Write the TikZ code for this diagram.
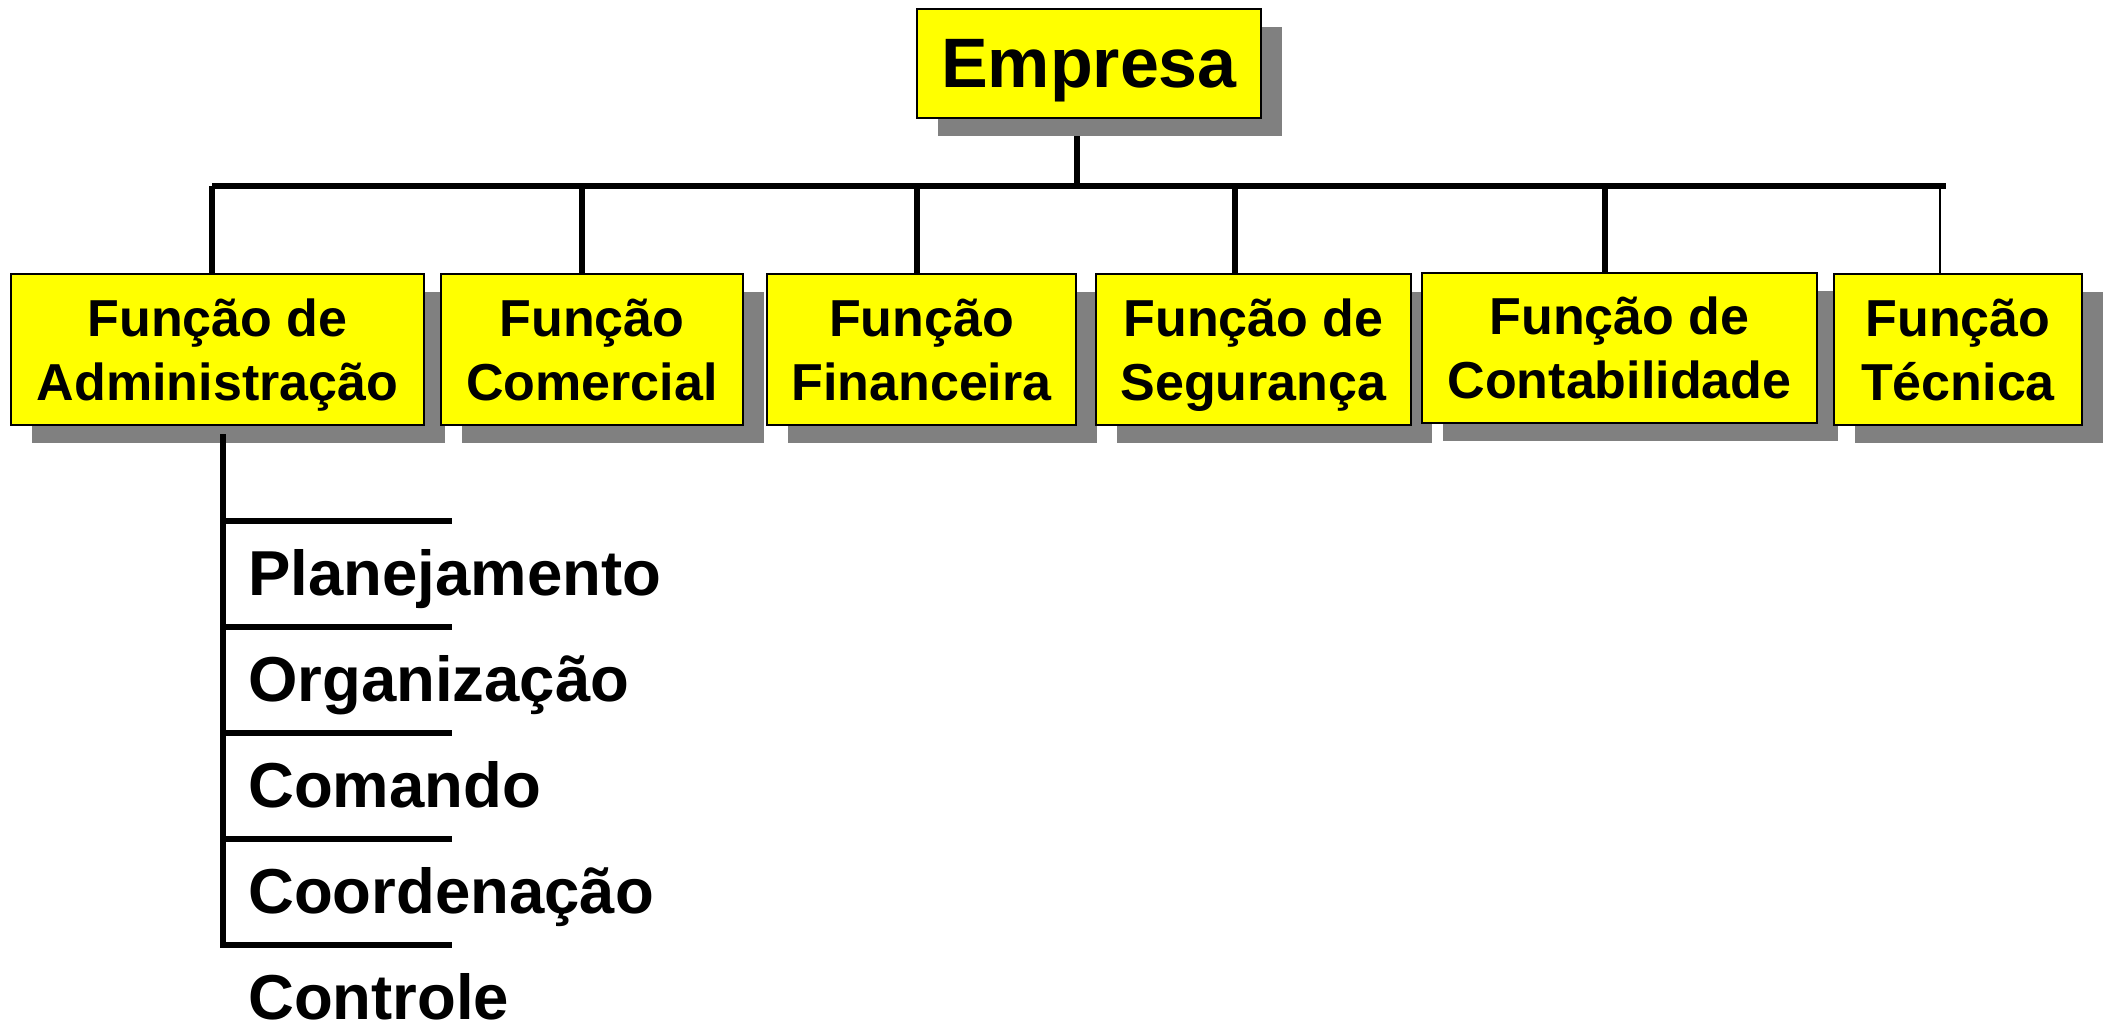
\documentclass[tikz,border=0pt]{standalone}
\usepackage{fontspec}
\setmainfont{Liberation Sans}
\usetikzlibrary{shadows,backgrounds}
\definecolor{boxyellow}{RGB}{255,255,0}
\definecolor{shadowgray}{RGB}{128,128,128}
\begin{document}
\begin{tikzpicture}[x=1pt, y=-1pt,
	func/.style={draw, line width=2pt, fill=boxyellow, align=center, inner sep=0pt,
		text depth=0pt, minimum height=151pt,
		font=\fontsize{52}{64}\selectfont\bfseries,
		drop shadow={shadow xshift=21pt, shadow yshift=-18pt, fill=shadowgray, opacity=1}},
	link/.style={line width=5.5pt},
	item/.style={anchor=base west, inner sep=0pt, font=\fontsize{63.5}{70}\selectfont\bfseries}]
	\useasboundingbox (0,0) rectangle (2105,1020);
	%top box
	\node[func, minimum width=344pt, minimum height=109pt,
		font=\fontsize{70}{80}\selectfont\bfseries] (empresa) at (1089,63.5) {Empresa};
	%functions
	\node[func, minimum width=413pt] (admin) at (217.5,349.5) {Função de\\Administração};
	\node[func, minimum width=302pt] (comercial) at (592,349.5) {Função\\Comercial};
	\node[func, minimum width=309pt] (financeira) at (921.5,349.5) {Função\\Financeira};
	\node[func, minimum width=315pt] (seguranca) at (1253.5,349.5) {Função de\\Segurança};
	\node[func, minimum width=395pt, minimum height=150pt] (contab) at (1619.5,348) {Função de\\Contabilidade};
	\node[func, minimum width=248pt] (tecnica) at (1958,349.5) {Função\\Técnica};
	%bar
	\begin{scope}[on background layer]
		\coordinate (top) at (1077,186);
		\coordinate (barL) at (212,186);
		\coordinate (barR) at (1946,186);
		\draw[line width=6pt] (barL) -- (barR);
		\draw[link] (top) -- (top |- empresa.south);
		\foreach \n/\x in {admin/212, comercial/582, financeira/917, seguranca/1235, contab/1605}
		{
			\coordinate (d\n) at (\x,186);
			\draw[link] (d\n) -- (d\n |- \n.north);
		}
		\coordinate (dtecnica) at (1940,186);
		\draw[line width=2pt] (dtecnica) -- (dtecnica |- tecnica.north);
	\end{scope}
	%list
	\foreach \name/\txt [count=\i] in {plan/Planejamento, org/Organização, com/Comando,
		coord/Coordenação, ctrl/Controle}
	{
		\node[item] (\name) at (248,489+106*\i) {\txt};
		\coordinate (tick\i) at (223,415+106*\i);
		\draw[line width=6pt] (tick\i) -- ++(229,0);
	}
	\draw[link] ([xshift=5.5pt, yshift=-8pt]admin.south) -- ([yshift=-3pt]tick5);
\end{tikzpicture}
\end{document}
